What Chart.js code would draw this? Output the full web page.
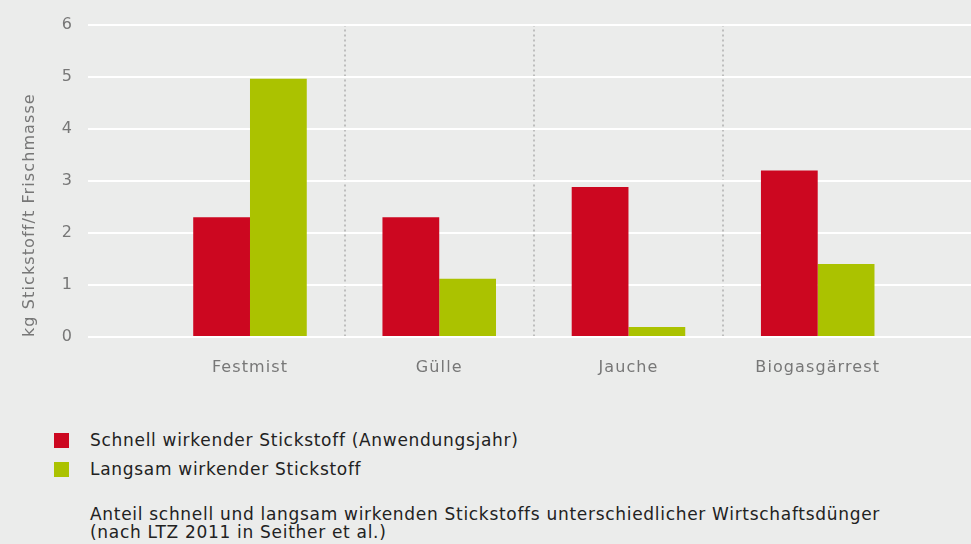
<!DOCTYPE html>
<html>
<head>
<meta charset="utf-8">
<script src="https://cdn.jsdelivr.net/npm/chart.js@4.4.0/dist/chart.umd.min.js"></script>
<style>
  html, body { margin: 0; padding: 0; background: #ebeceb; }
  body { width: 971px; height: 544px; overflow: hidden; font-family: "DejaVu Sans", sans-serif; color: #222; }
  #wrap { position: relative; width: 971px; height: 400px; }
  .legend { position: absolute; left: 54px; font-size: 17px; letter-spacing: 0.7px; }
  .legend div { height: 29px; line-height: 29px; position: relative; padding-left: 36px; }
  .legend span { position: absolute; left: 0; top: 7px; width: 15px; height: 15px; }
  .caption { position: absolute; left: 90px; top: 505px; font-size: 17px; line-height: 18px; letter-spacing: 0.7px; }
</style>
</head>
<body>
<div id="wrap"><canvas id="chart" width="971" height="400"></canvas></div>
<div class="legend" style="top:426px">
  <div><span style="background:#cc0720"></span>Schnell wirkender Stickstoff (Anwendungsjahr)</div>
  <div><span style="background:#abc200"></span>Langsam wirkender Stickstoff</div>
</div>
<div class="caption">Anteil schnell und langsam wirkenden Stickstoffs unterschiedlicher Wirtschaftsdünger<br>(nach LTZ 2011 in Seither et al.)</div>
<script>
const categories = ["Festmist", "Gülle", "Jauche", "Biogasgärrest"];
const schnell = [2.3, 2.3, 2.88, 3.2];
const langsam = [4.96, 1.12, 0.19, 1.4];
const yTicks = [0, 1, 2, 3, 4, 5, 6];

const labelColor = "#777";
const fontFamily = "'DejaVu Sans', sans-serif";

const toPoints = values => values.map((v, i) => ({ x: i, y: v }));

// wider text, closer to the original typeface
const letterSpacing = {
    id: "letterSpacing",
    beforeDraw: chart => { chart.ctx.letterSpacing = "1.1px"; },
};

new Chart(document.getElementById("chart").getContext("2d"), {
    type: "bar",
    data: {
        datasets: [
            {
                label: "Schnell wirkender Stickstoff (Anwendungsjahr)",
                data: toPoints(schnell),
                backgroundColor: "#cc0720",
                categoryPercentage: 0.6,
                barPercentage: 1.0,
            },
            {
                label: "Langsam wirkender Stickstoff",
                data: toPoints(langsam),
                backgroundColor: "#abc200",
                categoryPercentage: 0.6,
                barPercentage: 1.0,
            },
        ],
    },
    plugins: [letterSpacing],
    options: {
        responsive: false,
        animation: false,
        layout: { padding: { top: 7, right: 0, left: 0, bottom: 0 } },
        plugins: {
            legend: { display: false },
            tooltip: { enabled: false },
        },
        scales: {
            x: {
                type: "linear",
                min: -0.856,
                max: 3.81,
                offset: false,
                grid: { display: false, offset: false },
                border: { display: false },
                afterBuildTicks: scale => {
                    scale.ticks = categories.map((c, i) => ({ value: i }));
                },
                afterFit: scale => { scale.height = 63; },
                ticks: {
                    padding: 13,
                    autoSkip: false,
                    maxRotation: 0,
                    color: labelColor,
                    font: { family: fontFamily, size: 16 },
                    callback: value => categories[value] ?? "",
                },
            },
            sep: {
                type: "linear",
                position: "bottom",
                min: -0.856,
                max: 3.81,
                offset: false,
                afterBuildTicks: scale => {
                    scale.ticks = categories.slice(1).map((c, i) => ({ value: i + 0.5 }));
                },
                afterFit: scale => { scale.height = 0; },
                grid: { color: "#bdbdbd", lineWidth: 2, drawTicks: false, offset: false },
                border: { display: false, dash: [2, 3] },
                ticks: { display: false },
            },
            y: {
                min: 0,
                max: 6,
                afterBuildTicks: scale => {
                    scale.ticks = yTicks.map(v => ({ value: v }));
                },
                afterFit: scale => { scale.width = 88; },
                grid: { color: "#ffffff", lineWidth: 2, drawTicks: false },
                border: { display: false },
                ticks: {
                    padding: 15,
                    color: labelColor,
                    font: { family: fontFamily, size: 16 },
                },
                title: {
                    display: true,
                    align: "start",
                    text: "kg Stickstoff/t Frischmasse",
                    color: labelColor,
                    font: { family: fontFamily, size: 16 },
                    padding: { top: 20, bottom: 0 },
                },
            },
        },
    },
});
</script>
</body>
</html>
